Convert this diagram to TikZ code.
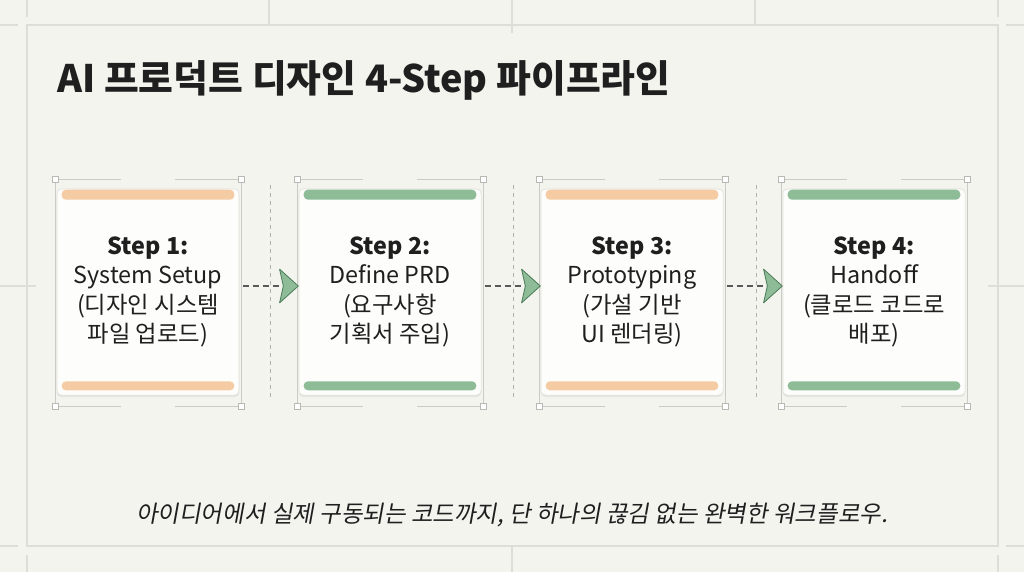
\documentclass[tikz,border=0pt]{standalone}
\usepackage{fontspec}
\setmainfont{Noto Sans CJK KR}
\newfontfamily\slantkr[FakeSlant=0.18]{Noto Sans CJK KR}
\usepackage{xcolor}
\usetikzlibrary{positioning, arrows.meta, calc, shadows}

\definecolor{paper}{HTML}{F4F4EF}
\definecolor{gridln}{HTML}{DEDED8}
\definecolor{peach}{HTML}{F5CBA3}
\definecolor{sage}{HTML}{8DBC97}
\definecolor{sagedark}{HTML}{4F7E5B}
\definecolor{ink}{HTML}{1F1F1F}

\tikzset{
    card/.style={draw=gridln, fill=white!80!paper, rounded corners=3pt,
        minimum width=4.55cm, minimum height=5.15cm, align=center, text=ink,
        font=\fontsize{16.6}{21}\selectfont,
        drop shadow={shadow xshift=0pt, shadow yshift=-1.5pt, opacity=0.12}},
    guide/.style={draw=gridln!80!gray, line width=0.5pt},
    corner/.style={draw=gridln!60!gray, fill=white, line width=0.4pt},
    sep/.style={draw=gridln!50!gray, line width=0.5pt, dash pattern=on 0.1cm off 0.1cm},
    flow/.style={draw=black!65, line width=1pt, dash pattern=on 0.15cm off 0.1cm,
        -{Stealth[length=0.5cm, width=0.9cm, inset=0.1cm, round,
                  fill=sage, color=sagedark, line width=0.6pt]}},
    frame/.style={draw=gridln, line width=1pt}
}

\begin{document}
\begin{tikzpicture}[x=0.025cm, y=-0.025cm]
        % Fondo
        \useasboundingbox[fill=paper] (0,0) rectangle (1024,572);
        \draw[frame] (27,25) rectangle (998,546);
        \draw[frame] (0,25) -- (18,25) (1006,25) -- (1024,25);
        \draw[frame] (0,546) -- (18,546) (1006,546) -- (1024,546);
        \draw[frame] (27,0) -- (27,17) (998,0) -- (998,17);
        \draw[frame] (27,555) -- (27,572) (998,555) -- (998,572);
        \draw[frame] (269,0) -- (269,25) (512,0) -- (512,33) (755,0) -- (755,25);
        \draw[frame] (512,546) -- (512,572);
        \draw[frame] (0,286) -- (36,286) (988,286) -- (1024,286);

        % Titulo
        \node[anchor=west, inner sep=0pt, text=ink, font=\bfseries\fontsize{26.9}{32}\selectfont] (title) at (57,80)
            {AI 프로덕트 디자인 4-Step 파이프라인};

        % Separadores
        \draw[sep] (270,185) -- (270,400);
        \draw[sep] (513,185) -- (513,400);
        \draw[sep] (756,185) -- (756,400);

        % Marcos de seleccion
        \foreach \x in {148,390,632,874} {
            \draw[guide] (\x-93,179) -- (\x-27,179) (\x+27,179) -- (\x+93,179);
            \draw[guide] (\x-93,406) -- (\x-27,406) (\x+27,406) -- (\x+93,406);
            \draw[guide] (\x-93,179) -- (\x-93,406) (\x+93,179) -- (\x+93,406);
            \foreach \y in {179,406} {
                \draw[corner] (\x-93-3,\y-3) rectangle (\x-93+3,\y+3);
                \draw[corner] (\x+93-3,\y-3) rectangle (\x+93+3,\y+3);
            }
        }

        % Tarjetas
        \node[card] (s1) at (148,292) {\textbf{Step 1:}\\System Setup\\(디자인 시스템\\파일 업로드)};
        \node[card] (s2) at (390,292) {\textbf{Step 2:}\\Define PRD\\(요구사항\\기획서 주입)};
        \node[card] (s3) at (632,292) {\textbf{Step 3:}\\Prototyping\\(가설 기반\\UI 렌더링)};
        \node[card] (s4) at (874,292) {\textbf{Step 4:}\\Handoff\\(클로드 코드로\\배포)};

        % Barras de color
        \fill[peach, rounded corners=3pt] ($(s1.north west)+(5,1)$) rectangle ($(s1.north east)+(-5,11)$);
        \fill[peach, rounded corners=3pt] ($(s1.south west)+(5,-14)$) rectangle ($(s1.south east)+(-5,-5)$);
        \fill[sage, rounded corners=3pt] ($(s2.north west)+(5,1)$) rectangle ($(s2.north east)+(-5,11)$);
        \fill[sage, rounded corners=3pt] ($(s2.south west)+(5,-14)$) rectangle ($(s2.south east)+(-5,-5)$);
        \fill[peach, rounded corners=3pt] ($(s3.north west)+(5,1)$) rectangle ($(s3.north east)+(-5,11)$);
        \fill[peach, rounded corners=3pt] ($(s3.south west)+(5,-14)$) rectangle ($(s3.south east)+(-5,-5)$);
        \fill[sage, rounded corners=3pt] ($(s4.north west)+(5,1)$) rectangle ($(s4.north east)+(-5,11)$);
        \fill[sage, rounded corners=3pt] ($(s4.south west)+(5,-14)$) rectangle ($(s4.south east)+(-5,-5)$);

        % Flechas
        \draw[flow] ([xshift=0.08cm, yshift=0.15cm]s1.east) -- ([yshift=0.15cm]s2.west);
        \draw[flow] ([xshift=0.08cm, yshift=0.15cm]s2.east) -- ([yshift=0.15cm]s3.west);
        \draw[flow] ([xshift=0.08cm, yshift=0.15cm]s3.east) -- ([yshift=0.15cm]s4.west);

        % Lema
        \node[text=ink, font=\slantkr\fontsize{16.7}{20}\selectfont] (motto) at (512,515)
            {아이디어에서 실제 구동되는 코드까지, 단 하나의 끊김 없는 완벽한 워크플로우.};
    \end{tikzpicture}
\end{document}
